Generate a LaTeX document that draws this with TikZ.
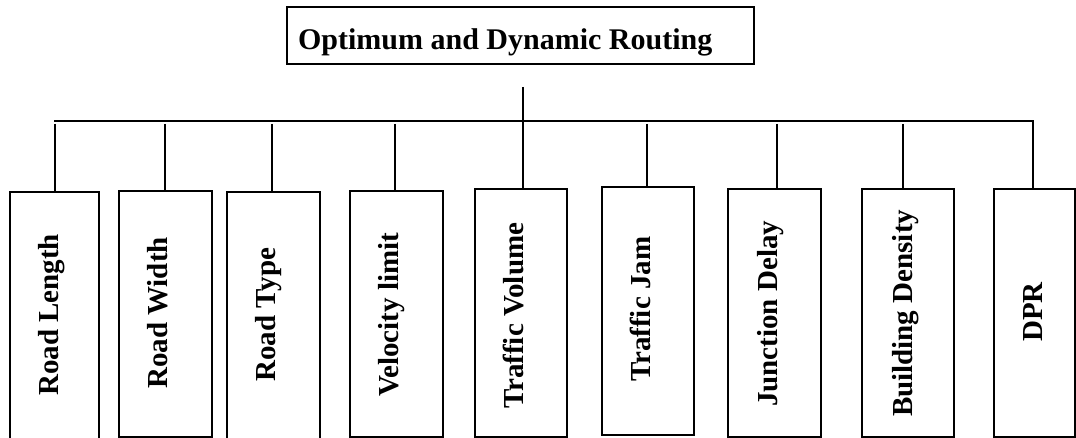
\documentclass[tikz,border=0pt]{standalone}
\usepackage{fontspec}
\setmainfont{Liberation Serif}
\begin{document}
\begin{tikzpicture}[x=1pt,y=-1pt,
  line width=2.2pt,
  frame/.style={draw, rectangle, inner sep=0pt, line width=2.2pt},
  factor/.style={rotate=90, anchor=base west, inner sep=0pt,
                 font=\fontsize{29}{29}\selectfont\bfseries},
  link/.style={line width=2.2pt}]
  \useasboundingbox (0,0) rectangle (1076,438);

  % root box
  \node[frame, minimum width=467pt, minimum height=57pt] (root) at (520.5,35.5) {};
  \node[anchor=base west, inner sep=0pt,
        font=\fontsize{30}{30}\selectfont\bfseries] (roottext) at (297,50)
        {Optimum and Dynamic Routing};

  % stem and bus
  \coordinate (stem) at (523,87);
  \coordinate (busL) at (55,121);
  \coordinate (busR) at (1033,121);
  \coordinate (busM) at (523,121);
  \draw[link] (stem) -- (busM);
  \draw[link, line cap=rect] (busL) -- (busR);

  % factor boxes (the first and third run past the lower edge)
  \node[frame, minimum width=89pt, minimum height=256pt] (b1) at (54.5,320) {};
  \node[frame, minimum width=93pt, minimum height=246pt] (b2) at (165.5,314) {};
  \node[frame, minimum width=93pt, minimum height=256pt] (b3) at (273.5,320) {};
  \node[frame, minimum width=93pt, minimum height=246pt] (b4) at (396.5,314) {};
  \node[frame, minimum width=92pt, minimum height=248pt] (b5) at (521,313) {};
  \node[frame, minimum width=92pt, minimum height=248pt] (b6) at (648,311) {};
  \node[frame, minimum width=93pt, minimum height=248pt] (b7) at (774.5,313) {};
  \node[frame, minimum width=92pt, minimum height=248pt] (b8) at (908,313) {};
  \node[frame, minimum width=81pt, minimum height=248pt] (b9) at (1034.5,313) {};

  % labels
  \node[factor] (t1) at (58,397)   {Road Length};
  \node[factor] (t2) at (167,390)  {Road Width};
  \node[factor] (t3) at (275,383)  {Road Type};
  \node[factor] (t4) at (398,398)  {Velocity limit};
  \node[factor] (t5) at (523,410)  {Traffic Volume};
  \node[factor] (t6) at (650,383)  {Traffic Jam};
  \node[factor] (t7) at (777,408)  {Junction Delay};
  \node[factor] (t8) at (912,418)  {Building Density};
  \node[factor] (t9) at (1042,343) {DPR};

  % drops from the bus
  \coordinate (d1) at (55,124);
  \coordinate (d2) at (165,124);
  \coordinate (d3) at (272,124);
  \coordinate (d4) at (395,124);
  \coordinate (d6) at (647,124);
  \coordinate (d7) at (777,124);
  \coordinate (d8) at (903,124);
  \draw[link] (d1) -- (d1 |- b1.north);
  \draw[link] (d2) -- (d2 |- b2.north);
  \draw[link] (d3) -- (d3 |- b3.north);
  \draw[link] (d4) -- (d4 |- b4.north);
  \draw[link] (busM) -- (busM |- b5.north);
  \draw[link] (d6) -- (d6 |- b6.north);
  \draw[link] (d7) -- (d7 |- b7.north);
  \draw[link] (d8) -- (d8 |- b8.north);
  \draw[link] (busR) -- (busR |- b9.north);
\end{tikzpicture}
\end{document}
